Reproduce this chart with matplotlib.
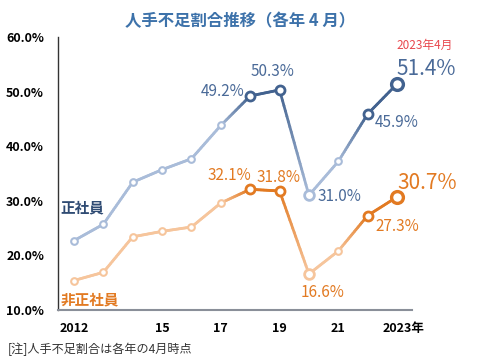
import numpy as np
import matplotlib
matplotlib.use("Agg")
import matplotlib.pyplot as plt
import matplotlib.transforms as mtransforms
from matplotlib.collections import LineCollection
from matplotlib.colors import to_rgb

plt.rcParams['font.family'] = ['Noto Sans CJK JP', 'DejaVu Sans']

years = [2012, 2013, 2014, 2015, 2016, 2017, 2018, 2019, 2020, 2021, 2022, 2023]
regular = [22.7, 25.7, 33.4, 35.7, 37.7, 43.8, 49.2, 50.3, 31.0, 37.2, 45.9, 51.4]
nonregular = [15.4, 16.9, 23.4, 24.4, 25.2, 29.6, 32.1, 31.8, 16.6, 20.8, 27.3, 30.7]
highlight = [False, False, False, False, False, False, True, True, False, False, True, True]
xtick_vals = [2012, 2015, 2017, 2019, 2021, 2023]
xtick_labels = ['2012', '15', '17', '19', '21', '2023年']
ytick_vals = [10, 20, 30, 40, 50, 60]

BLUE_D, BLUE_L = '#42628f', '#a9bcd9'
OR_D, OR_L = '#e27a22', '#f6c59c'

fig = plt.figure(figsize=(4.83, 3.59), dpi=100)
ax = fig.add_axes([0.120, 0.1365, 0.733, 0.7605])
ax.set_xlim(2011.455, 2023.51)
ax.set_ylim(10, 60)


def draw_series(vals, cd, cl):
    cd, cl = np.array(to_rgb(cd)), np.array(to_rgb(cl))
    segs, cols = [], []
    for i in range(len(years) - 1):
        c0 = cd if highlight[i] else cl
        c1 = cd if highlight[i + 1] else cl
        n = 20
        t = np.linspace(0, 1, n + 1)
        xs = years[i] + (years[i + 1] - years[i]) * t
        ys = vals[i] + (vals[i + 1] - vals[i]) * t
        for k in range(n):
            segs.append([(xs[k], ys[k]), (xs[k + 1], ys[k + 1])])
            f = (t[k] + t[k + 1]) / 2
            cols.append(tuple(c0 * (1 - f) + c1 * f))
    lc = LineCollection(segs, colors=cols, linewidths=2.0, zorder=2, capstyle='round')
    ax.add_collection(lc)
    for i, (x, y) in enumerate(zip(years, vals)):
        if highlight[i]:
            ms, mew, ec = (8.5, 2.4, cd) if x == 2023 else (6.5, 2.0, cd)
        else:
            ms, mew, ec = (7.0, 2.0, cl) if x == 2020 else (4.8, 1.5, cl)
        ax.plot([x], [y], 'o', ms=ms, mfc='white', mec=ec, mew=mew, zorder=3)


draw_series(regular, BLUE_D, BLUE_L)
draw_series(nonregular, OR_D, OR_L)

for s in ['top', 'right']:
    ax.spines[s].set_visible(False)
ax.spines['left'].set_color('#333333')
ax.spines['left'].set_linewidth(1.0)
ax.spines['bottom'].set_color('#8a8f99')
ax.spines['bottom'].set_linewidth(1.5)
ax.set_yticks(ytick_vals)
ax.set_yticklabels([f'{v:.1f}%' for v in ytick_vals], fontsize=9, fontweight='bold')
ax.set_xticks(xtick_vals)
ax.set_xticklabels(xtick_labels, fontsize=9, fontweight='bold')
ax.tick_params(axis='both', length=0)
ax.tick_params(axis='y', pad=10)
ax.tick_params(axis='x', pad=9)
last = ax.get_xticklabels()[-1]
last.set_transform(last.get_transform() +
                   mtransforms.ScaledTranslation(6.5 / 100, 0, fig.dpi_scale_trans))

lblc = '#4a6a98'
def ann(x, y, text, dx, dy, color, size=11, ha='center'):
    ax.annotate(text, (x, y), xytext=(dx, dy), textcoords='offset points',
                ha=ha, va='center', fontsize=size, color=color)

ann(2018, regular[6], f'{regular[6]}%', -20, 3, lblc)
ann(2019, regular[7], f'{regular[7]}%', -5, 13, lblc)
ann(2020, regular[8], f'{regular[8]}%', 22, -1, lblc)
ann(2022, regular[10], f'{regular[10]}%', 21, -6, lblc)
ann(2023, regular[11], f'{regular[11]}%', 21, 10.5, lblc, size=15)
ax.text(2023.95, 58.5, '2023年4月', fontsize=8.5, color='#e8474d', ha='center', va='center')

ann(2018, nonregular[6], f'{nonregular[6]}%', -15, 10, OR_D)
ann(2019, nonregular[7], f'{nonregular[7]}%', -1, 10, OR_D)
ann(2020, nonregular[8], f'{nonregular[8]}%', 10, -13, OR_D)
ann(2022, nonregular[10], f'{nonregular[10]}%', 21, -8, OR_D)
ann(2023, nonregular[11], f'{nonregular[11]}%', 22, 10, OR_D, size=15)

ax.text(2011.55, 28.7, '正社員', fontsize=10.5, fontweight='bold', color='#2f4b73', va='center')
ax.text(2011.55, 12.0, '非正社員', fontsize=10.5, fontweight='bold', color='#e27a22', va='center')

fig.text(0.497, 0.940, '人手不足割合推移（各年 4 月）', fontsize=11.8, fontweight='bold',
         color='#3d72aa', ha='center', va='center')
fig.text(0.017, 0.028, '[注]人手不足割合は各年の4月時点', fontsize=8.7, color='#333333',
         ha='left', va='center')

fig.savefig('out.png', dpi=100, facecolor='white')
